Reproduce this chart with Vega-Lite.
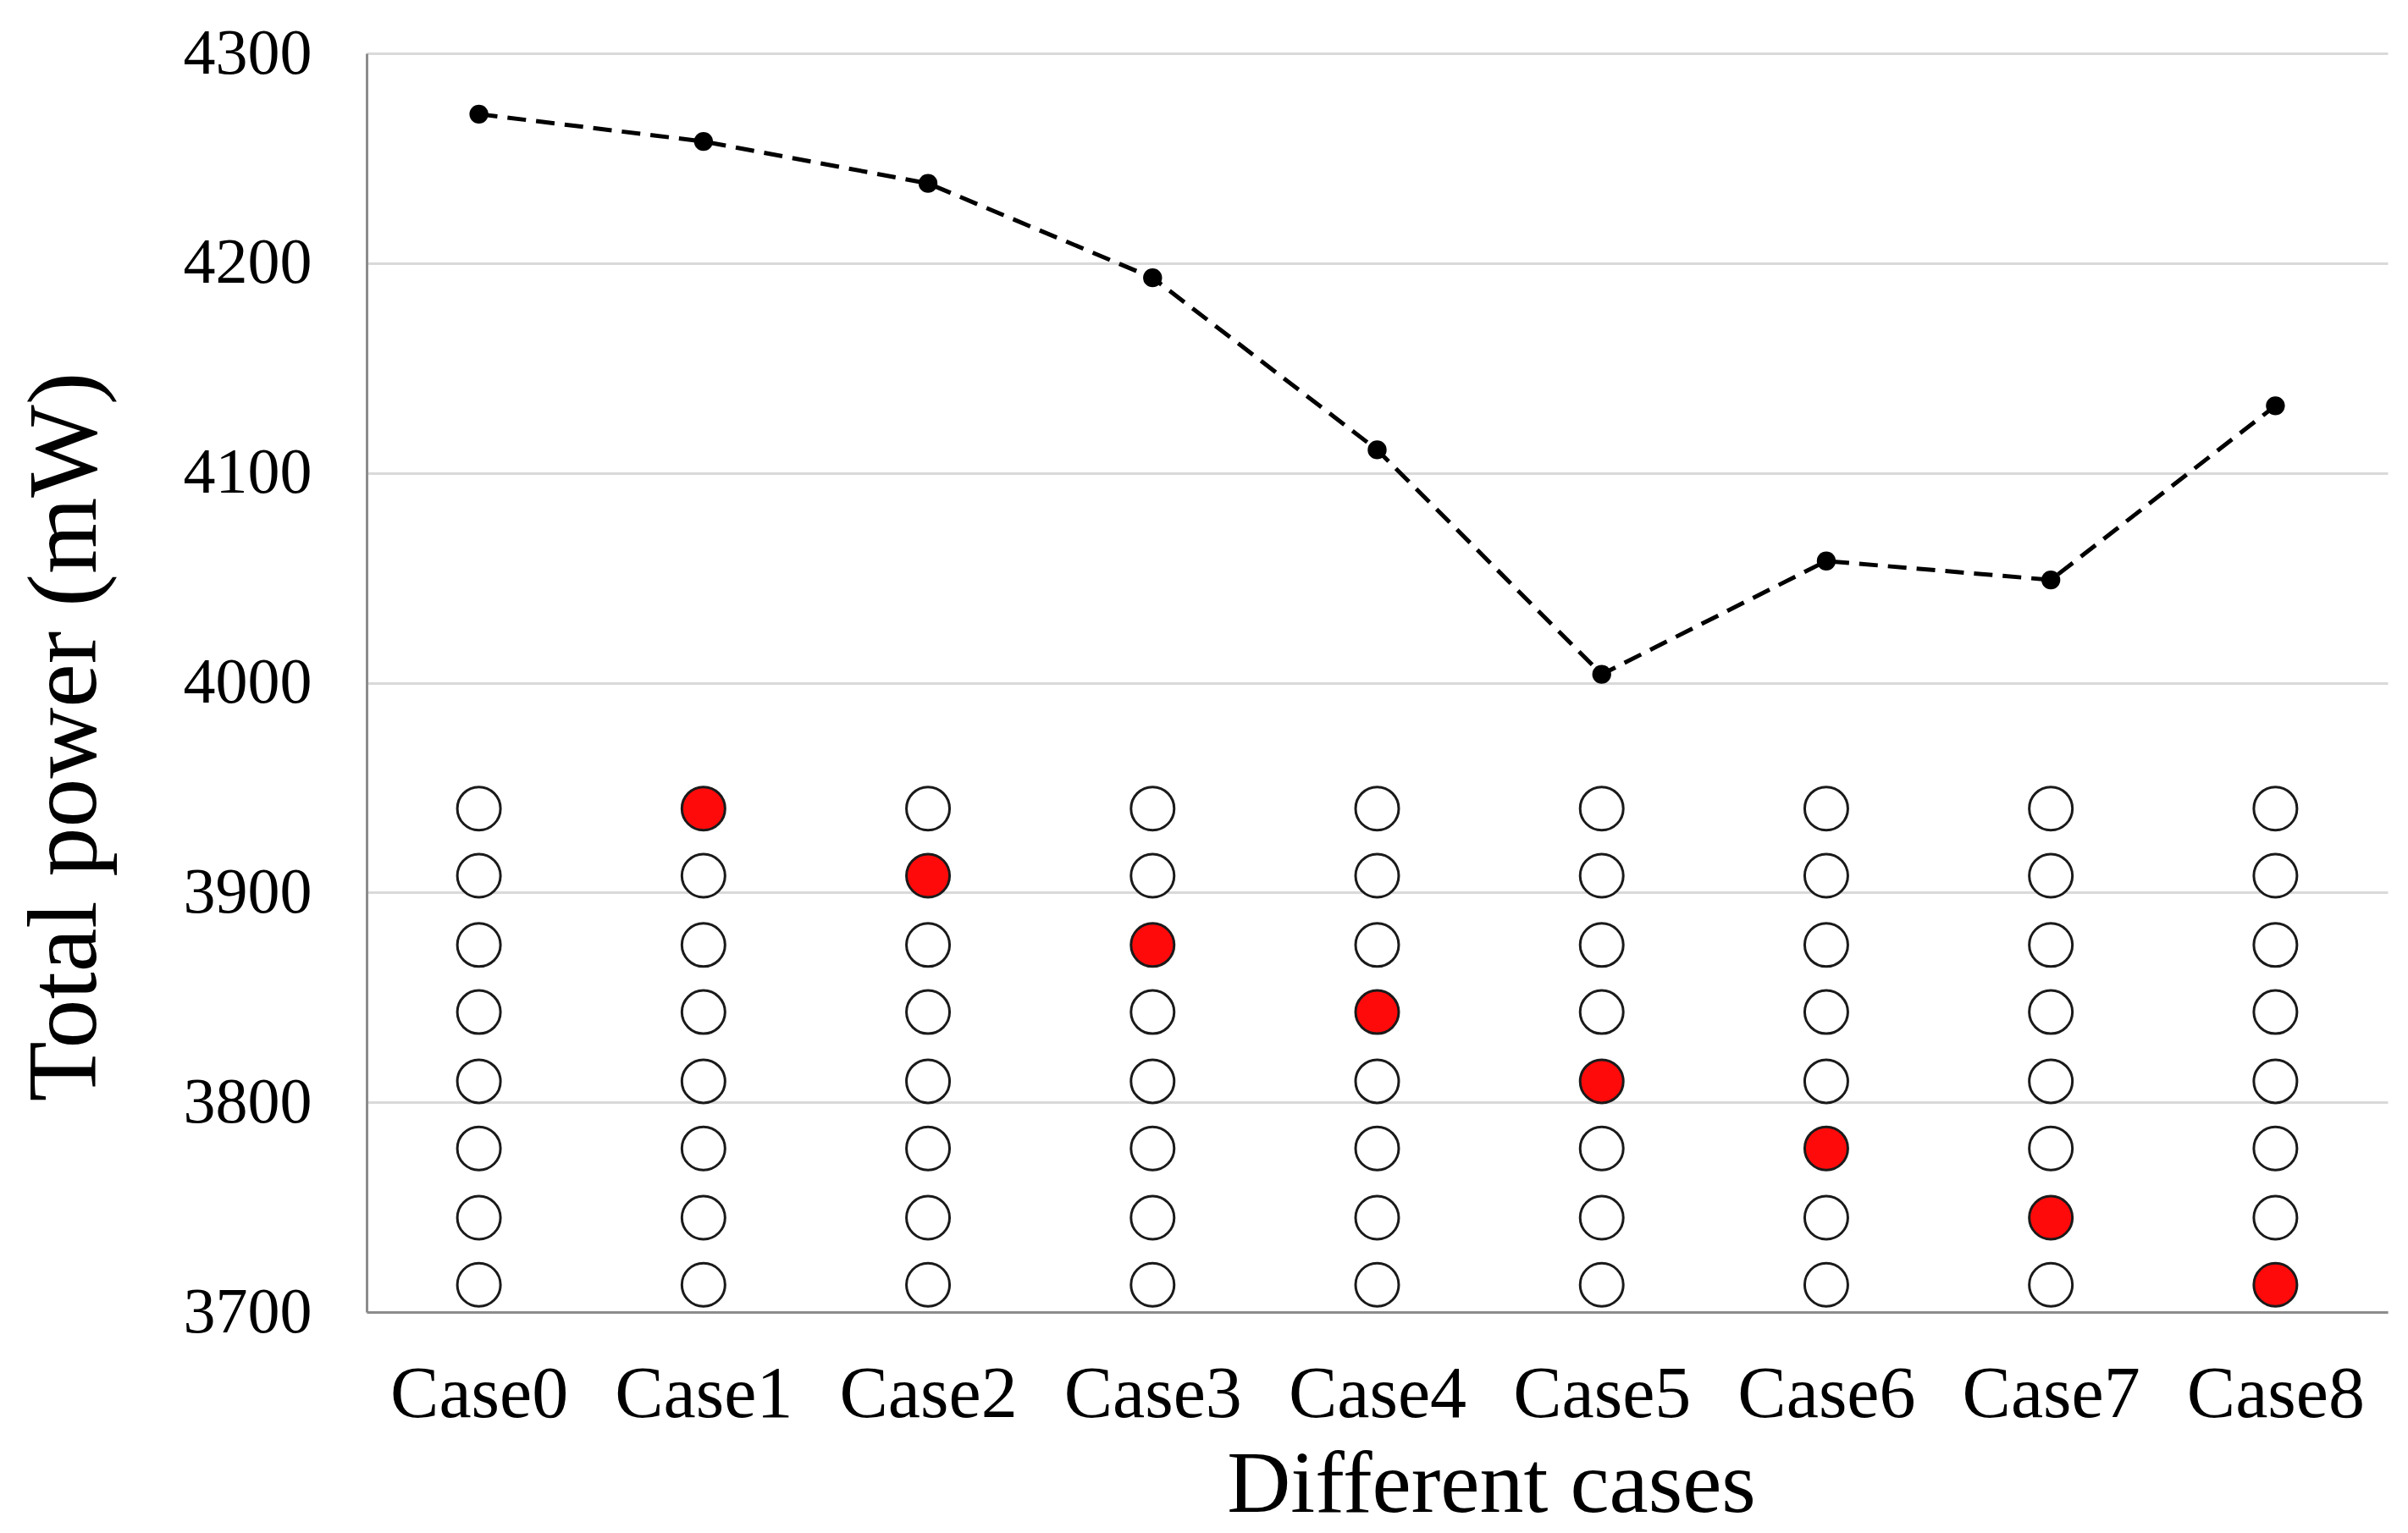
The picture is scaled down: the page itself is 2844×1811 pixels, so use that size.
{
  "$schema": "https://vega.github.io/schema/vega-lite/v6.json",
  "autosize": "none",
  "width": 2387,
  "height": 1487,
  "padding": {"left": 433, "top": 63, "right": 24, "bottom": 261},
  "background": "white",
  "config": {"view": {"stroke": null}, "font": "Liberation Serif"},
  "datasets": {
    "power": [
      {"case": "Case0", "value": 4271},
      {"case": "Case1", "value": 4258},
      {"case": "Case2", "value": 4238},
      {"case": "Case3", "value": 4193},
      {"case": "Case4", "value": 4111},
      {"case": "Case5", "value": 4004},
      {"case": "Case6", "value": 4058},
      {"case": "Case7", "value": 4049},
      {"case": "Case8", "value": 4132}
    ],
    "grid": [
      {"case": "Case0", "value": 3940, "selected": "no"},
      {"case": "Case0", "value": 3908, "selected": "no"},
      {"case": "Case0", "value": 3875, "selected": "no"},
      {"case": "Case0", "value": 3843, "selected": "no"},
      {"case": "Case0", "value": 3810, "selected": "no"},
      {"case": "Case0", "value": 3778, "selected": "no"},
      {"case": "Case0", "value": 3745, "selected": "no"},
      {"case": "Case0", "value": 3713, "selected": "no"},
      {"case": "Case1", "value": 3940, "selected": "yes"},
      {"case": "Case1", "value": 3908, "selected": "no"},
      {"case": "Case1", "value": 3875, "selected": "no"},
      {"case": "Case1", "value": 3843, "selected": "no"},
      {"case": "Case1", "value": 3810, "selected": "no"},
      {"case": "Case1", "value": 3778, "selected": "no"},
      {"case": "Case1", "value": 3745, "selected": "no"},
      {"case": "Case1", "value": 3713, "selected": "no"},
      {"case": "Case2", "value": 3940, "selected": "no"},
      {"case": "Case2", "value": 3908, "selected": "yes"},
      {"case": "Case2", "value": 3875, "selected": "no"},
      {"case": "Case2", "value": 3843, "selected": "no"},
      {"case": "Case2", "value": 3810, "selected": "no"},
      {"case": "Case2", "value": 3778, "selected": "no"},
      {"case": "Case2", "value": 3745, "selected": "no"},
      {"case": "Case2", "value": 3713, "selected": "no"},
      {"case": "Case3", "value": 3940, "selected": "no"},
      {"case": "Case3", "value": 3908, "selected": "no"},
      {"case": "Case3", "value": 3875, "selected": "yes"},
      {"case": "Case3", "value": 3843, "selected": "no"},
      {"case": "Case3", "value": 3810, "selected": "no"},
      {"case": "Case3", "value": 3778, "selected": "no"},
      {"case": "Case3", "value": 3745, "selected": "no"},
      {"case": "Case3", "value": 3713, "selected": "no"},
      {"case": "Case4", "value": 3940, "selected": "no"},
      {"case": "Case4", "value": 3908, "selected": "no"},
      {"case": "Case4", "value": 3875, "selected": "no"},
      {"case": "Case4", "value": 3843, "selected": "yes"},
      {"case": "Case4", "value": 3810, "selected": "no"},
      {"case": "Case4", "value": 3778, "selected": "no"},
      {"case": "Case4", "value": 3745, "selected": "no"},
      {"case": "Case4", "value": 3713, "selected": "no"},
      {"case": "Case5", "value": 3940, "selected": "no"},
      {"case": "Case5", "value": 3908, "selected": "no"},
      {"case": "Case5", "value": 3875, "selected": "no"},
      {"case": "Case5", "value": 3843, "selected": "no"},
      {"case": "Case5", "value": 3810, "selected": "yes"},
      {"case": "Case5", "value": 3778, "selected": "no"},
      {"case": "Case5", "value": 3745, "selected": "no"},
      {"case": "Case5", "value": 3713, "selected": "no"},
      {"case": "Case6", "value": 3940, "selected": "no"},
      {"case": "Case6", "value": 3908, "selected": "no"},
      {"case": "Case6", "value": 3875, "selected": "no"},
      {"case": "Case6", "value": 3843, "selected": "no"},
      {"case": "Case6", "value": 3810, "selected": "no"},
      {"case": "Case6", "value": 3778, "selected": "yes"},
      {"case": "Case6", "value": 3745, "selected": "no"},
      {"case": "Case6", "value": 3713, "selected": "no"},
      {"case": "Case7", "value": 3940, "selected": "no"},
      {"case": "Case7", "value": 3908, "selected": "no"},
      {"case": "Case7", "value": 3875, "selected": "no"},
      {"case": "Case7", "value": 3843, "selected": "no"},
      {"case": "Case7", "value": 3810, "selected": "no"},
      {"case": "Case7", "value": 3778, "selected": "no"},
      {"case": "Case7", "value": 3745, "selected": "yes"},
      {"case": "Case7", "value": 3713, "selected": "no"},
      {"case": "Case8", "value": 3940, "selected": "no"},
      {"case": "Case8", "value": 3908, "selected": "no"},
      {"case": "Case8", "value": 3875, "selected": "no"},
      {"case": "Case8", "value": 3843, "selected": "no"},
      {"case": "Case8", "value": 3810, "selected": "no"},
      {"case": "Case8", "value": 3778, "selected": "no"},
      {"case": "Case8", "value": 3745, "selected": "no"},
      {"case": "Case8", "value": 3713, "selected": "yes"}
    ]
  },
  "encoding": {
    "x": {
      "field": "case",
      "type": "ordinal",
      "scale": {"type": "point", "padding": 0.5, "domain": ["Case0", "Case1", "Case2", "Case3", "Case4", "Case5", "Case6", "Case7", "Case8"]},
      "axis": {
        "title": "Different cases",
        "labelAngle": 0,
        "labelLimit": 0,
        "labelOverlap": false,
        "ticks": false,
        "grid": false,
        "domain": true,
        "domainColor": "#8c8c8c",
        "domainWidth": 3,
        "labelFont": "Liberation Serif",
        "labelFontSize": 86,
        "labelColor": "black",
        "labelBaseline": "alphabetic",
        "labelPadding": 123,
        "titleFont": "Liberation Serif",
        "titleFontSize": 104,
        "titleFontWeight": "normal",
        "titleColor": "black",
        "titleX": 1328,
        "titleY": 235,
        "titleBaseline": "alphabetic"
      }
    },
    "y": {
      "field": "value",
      "type": "quantitative",
      "scale": {"domain": [3700, 4300], "nice": false, "zero": false},
      "axis": {
        "title": "Total power (mW)",
        "values": [3700, 3800, 3900, 4000, 4100, 4200, 4300],
        "format": "d",
        "labelOverlap": false,
        "grid": true,
        "gridColor": "#d9d9d9",
        "gridWidth": 3,
        "domain": true,
        "domainColor": "#8c8c8c",
        "domainWidth": 3,
        "ticks": false,
        "labelFont": "Liberation Serif",
        "labelFontSize": 76,
        "labelColor": "black",
        "labelPadding": 65,
        "titleFont": "Liberation Serif",
        "titleFontSize": 116,
        "titleFontWeight": "normal",
        "titleColor": "black",
        "titleX": -321,
        "titleY": 807,
        "titleAngle": -90,
        "titleBaseline": "alphabetic"
      }
    }
  },
  "layer": [
    {
      "data": {"name": "grid"},
      "mark": {"type": "point", "shape": "circle", "filled": true, "size": 2600, "stroke": "#1a1a1a", "strokeWidth": 3, "opacity": 1},
      "encoding": {
        "fill": {"field": "selected", "type": "nominal", "scale": {"domain": ["no", "yes"], "range": ["#ffffff", "#ff0a0a"]}, "legend": null}
      }
    },
    {
      "data": {"name": "power"},
      "mark": {"type": "line", "color": "black", "strokeWidth": 5, "strokeDash": [22, 12]},
      "encoding": {}
    },
    {
      "data": {"name": "power"},
      "mark": {"type": "point", "shape": "circle", "filled": true, "size": 500, "color": "black", "opacity": 1},
      "encoding": {}
    }
  ]
}
